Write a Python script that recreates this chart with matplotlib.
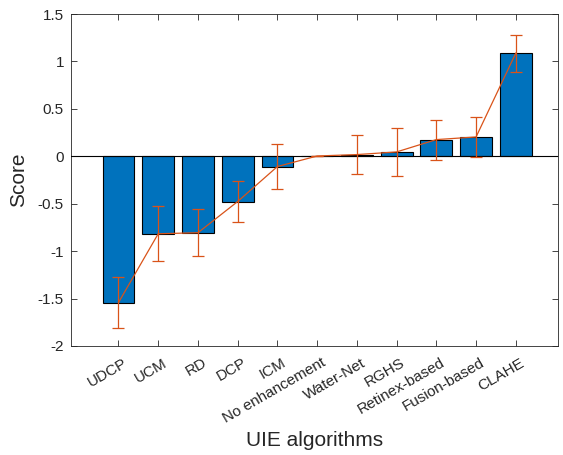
import matplotlib
matplotlib.use('Agg')
from matplotlib import pyplot as plt
from matplotlib.transforms import ScaledTranslation
import numpy as np

plt.rcParams['font.family'] = ['Liberation Sans', 'DejaVu Sans']
plt.rcParams['axes.unicode_minus'] = False

methods = ['UDCP', 'UCM', 'RD', 'DCP', 'ICM', 'No enhancement', 'Water-Net',
           'RGHS', 'Retinex-based', 'Fusion-based', 'CLAHE']
scores = [-1.543, -0.817, -0.806, -0.477, -0.108, 0.003, 0.018,
          0.046, 0.176, 0.204, 1.088]
errors = [0.27, 0.29, 0.25, 0.22, 0.233, 0.0, 0.21,
          0.25, 0.21, 0.207, 0.195]

x = np.arange(1, len(methods) + 1)
axc = '#262626'

fig = plt.figure(figsize=(5.63, 4.55), dpi=100)
ax = fig.add_axes([0.126, 0.2396, 0.865, 0.7296])

ax.bar(x, scores, width=0.8, color='#0072BD', edgecolor='black', linewidth=0.8, zorder=2)
ax.axhline(0, color='black', linewidth=0.8, zorder=3)
ax.errorbar(x, scores, yerr=errors, color='#D95319', linewidth=0.9,
            elinewidth=0.9, capsize=4, capthick=0.9, zorder=4)

ax.set_xlim(-0.196, 12.06)
ax.set_ylim(-2, 1.5)
ax.set_yticks([-2, -1.5, -1, -0.5, 0, 0.5, 1, 1.5])
ax.set_yticklabels(['-2', '-1.5', '-1', '-0.5', '0', '0.5', '1', '1.5'])
ax.set_xticks(x)
ax.set_xticklabels(methods, rotation=30, ha='right', rotation_mode='anchor')

ax.tick_params(direction='in', length=4, width=0.6, colors=axc, labelsize=11,
               top=True, right=True, pad=5)
ax.tick_params(axis='x', pad=7)
shift = ScaledTranslation(4 / 100, 0, fig.dpi_scale_trans)
for lbl in ax.get_xticklabels():
    lbl.set_transform(lbl.get_transform() + shift)
for lbl in ax.get_xticklabels() + ax.get_yticklabels():
    lbl.set_color('#262626')
for s in ax.spines.values():
    s.set_color(axc)
    s.set_linewidth(0.6)

ax.set_xlabel('UIE algorithms', fontsize=15, color=axc, labelpad=4)
ax.set_ylabel('Score', fontsize=15, color=axc, labelpad=7)

plt.savefig('out.png', dpi=100)
